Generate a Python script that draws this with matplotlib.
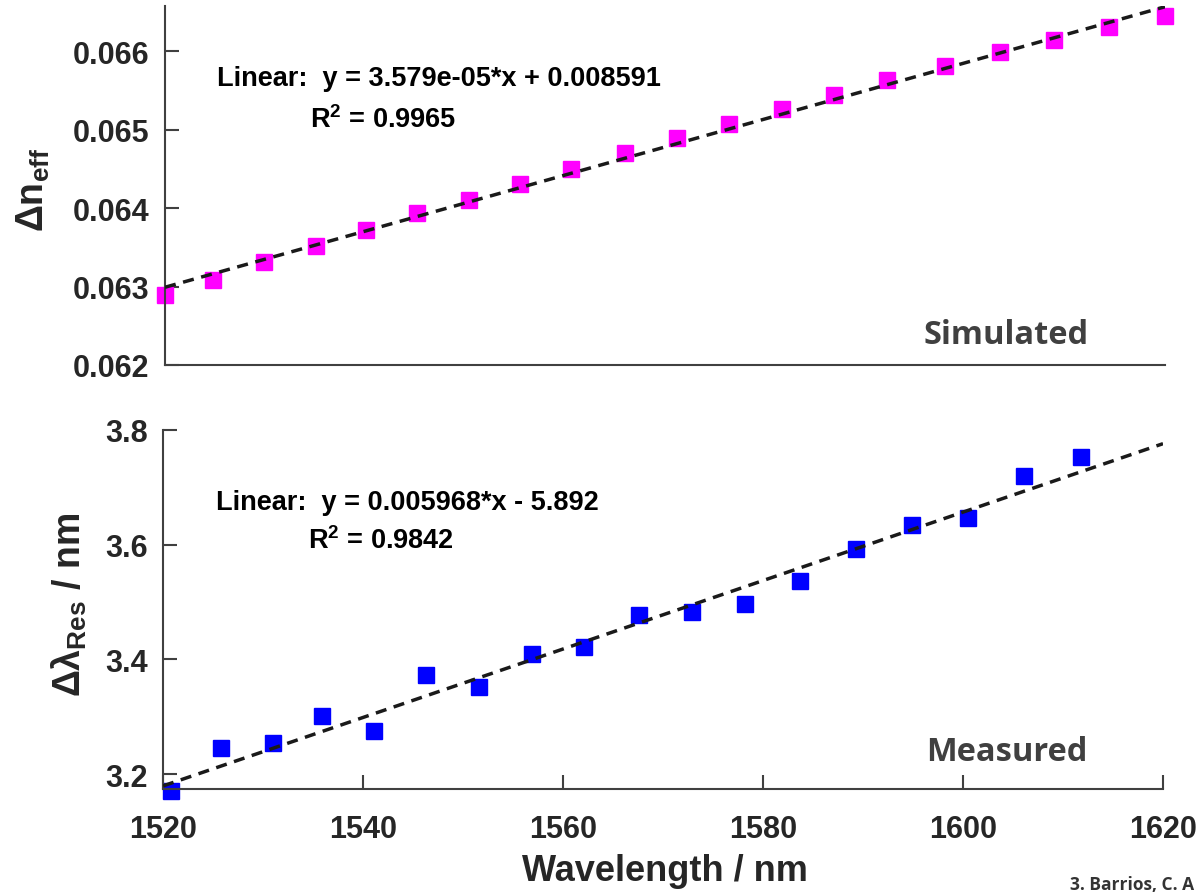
import matplotlib
matplotlib.use("Agg")
import matplotlib.pyplot as plt
import numpy as np

plt.rcParams['font.family'] = ['Liberation Sans', 'DejaVu Sans']
plt.rcParams['font.weight'] = 'bold'
plt.rcParams['mathtext.fontset'] = 'custom'
plt.rcParams['mathtext.rm'] = 'Liberation Sans:bold'
plt.rcParams['mathtext.bf'] = 'Liberation Sans:bold'
plt.rcParams['mathtext.it'] = 'Liberation Sans:bold'

# ---- data ----
sim_wl = [1520.0, 1524.8, 1529.9, 1535.1, 1540.1, 1545.2, 1550.4, 1555.5, 1560.6, 1566.0,
          1571.2, 1576.4, 1581.7, 1586.9, 1592.2, 1598.0, 1603.5, 1608.9, 1614.4, 1620.0]
sim_dn = [0.06289, 0.06308, 0.06331, 0.06352, 0.06372, 0.06394, 0.06411, 0.06431, 0.06450, 0.06471,
          0.06490, 0.06508, 0.06526, 0.06545, 0.06563, 0.06581, 0.06599, 0.06615, 0.06631, 0.06645]
sim_fit = (3.579e-05, 0.008591)

meas_wl = [1520.8, 1525.8, 1531.0, 1535.9, 1541.1, 1546.3, 1551.6, 1556.9, 1562.1,
           1567.6, 1572.9, 1578.2, 1583.7, 1589.3, 1594.9, 1600.5, 1606.1, 1611.8]
meas_dl = [3.170, 3.245, 3.254, 3.301, 3.275, 3.372, 3.351, 3.409, 3.421,
           3.477, 3.482, 3.496, 3.537, 3.593, 3.635, 3.647, 3.720, 3.753]
meas_fit = (0.005968, -5.892)

x_ticks = [1520, 1540, 1560, 1580, 1600, 1620]
top_yticks = [0.062, 0.063, 0.064, 0.065, 0.066]
bot_yticks = [3.2, 3.4, 3.6, 3.8]

W, H = 1201, 895
fig = plt.figure(figsize=(W / 100, H / 100), dpi=100)

spine_c = '#404040'
tick_c = '#262626'

def style(ax):
    for s in ['top', 'right']:
        ax.spines[s].set_visible(False)
    for s in ['left', 'bottom']:
        ax.spines[s].set_color(spine_c)
        ax.spines[s].set_linewidth(1.5)
    ax.tick_params(axis='both', direction='in', length=10, width=1.5, color=spine_c,
                   labelsize=22, labelcolor=tick_c)
    ax.tick_params(axis='y', pad=11)
    ax.tick_params(axis='x', pad=18)
    for lab in ax.get_xticklabels() + ax.get_yticklabels():
        lab.set_fontweight('bold')

ax1 = fig.add_axes([165 / W, 1 - 366 / H, 1000 / W, 359 / H])
ax2 = fig.add_axes([163 / W, 1 - 790 / H, 1000 / W, 359 / H])

xl = np.array([1520, 1620])

# top
ax1.plot(xl, sim_fit[0] * xl + sim_fit[1], ls=(0, (3.2, 2.2)), color='#1a1a1a', lw=2.5, zorder=3)
ax1.plot(sim_wl, sim_dn, ls='none', marker='s', ms=11.5, color='#ff00ff', mec='#ff00ff',
         clip_on=False, zorder=2)
ax1.set_xlim(1520, 1620)
ax1.set_ylim(0.062, 0.06658)
ax1.set_yticks(top_yticks)
ax1.set_yticklabels([f'{v:.3f}' for v in top_yticks])
ax1.set_xticks([])
style(ax1)

# bottom
ax2.plot(xl, meas_fit[0] * xl + meas_fit[1], ls=(0, (3.2, 2.2)), color='#1a1a1a', lw=2.5, zorder=3)
ax2.plot(meas_wl, meas_dl, ls='none', marker='s', ms=11.5, color='#0000ff', mec='#0000ff',
         clip_on=False, zorder=2)
ax2.set_xlim(1520, 1620)
ax2.set_ylim(3.174, 3.8)
ax2.set_yticks(bot_yticks)
ax2.set_yticklabels([f'{v:.1f}' for v in bot_yticks])
ax2.set_xticks(x_ticks)
ax2.set_xticklabels([str(v) for v in x_ticks])
style(ax2)

# axis labels
fig.text(33 / W, 1 - 190 / H, r'$\Delta\mathrm{n}_{\mathrm{eff}}$', rotation=90,
         ha='center', va='center', fontsize=27, color=tick_c)
fig.text(69 / W, 1 - 605 / H, r'$\Delta\lambda_{\mathrm{Res}}$ / nm', rotation=90,
         ha='center', va='center', fontsize=27, color=tick_c, fontweight='bold')
fig.text(665 / W, 1 - 872 / H, 'Wavelength / nm', ha='center', va='center',
         fontsize=26, color=tick_c, fontweight='bold')

# fit equations
fs_eq = 19.5
fig.text(217 / W, 1 - 79 / H, 'Linear:  y = 3.579e-05*x + 0.008591', ha='left', va='center',
         fontsize=fs_eq, color='black', fontweight='bold')
fig.text(310 / W, 1 - 120 / H, r'R$^2$ = 0.9965', ha='left', va='center',
         fontsize=fs_eq, color='black', fontweight='bold')
fig.text(216 / W, 1 - 503 / H, 'Linear:  y = 0.005968*x - 5.892', ha='left', va='center',
         fontsize=fs_eq, color='black', fontweight='bold')
fig.text(308 / W, 1 - 541 / H, r'R$^2$ = 0.9842', ha='left', va='center',
         fontsize=fs_eq, color='black', fontweight='bold')

# panel labels
fig.text(1006 / W, 1 - 335 / H, 'Simulated', ha='center', va='center',
         fontsize=23.5, color='#404040', fontweight='bold', family=['Open Sans', 'DejaVu Sans'])
fig.text(1007 / W, 1 - 753 / H, 'Measured', ha='center', va='center',
         fontsize=23.5, color='#404040', fontweight='bold', family=['Open Sans', 'DejaVu Sans'])

# citation
fig.text(1070 / W, 1 - 885 / H, '3. Barrios, C. A', ha='left', va='center',
         fontsize=12.5, color='#333333', fontweight='bold', family=['Open Sans', 'DejaVu Sans'])

fig.savefig('out.png', dpi=100, facecolor='white')
